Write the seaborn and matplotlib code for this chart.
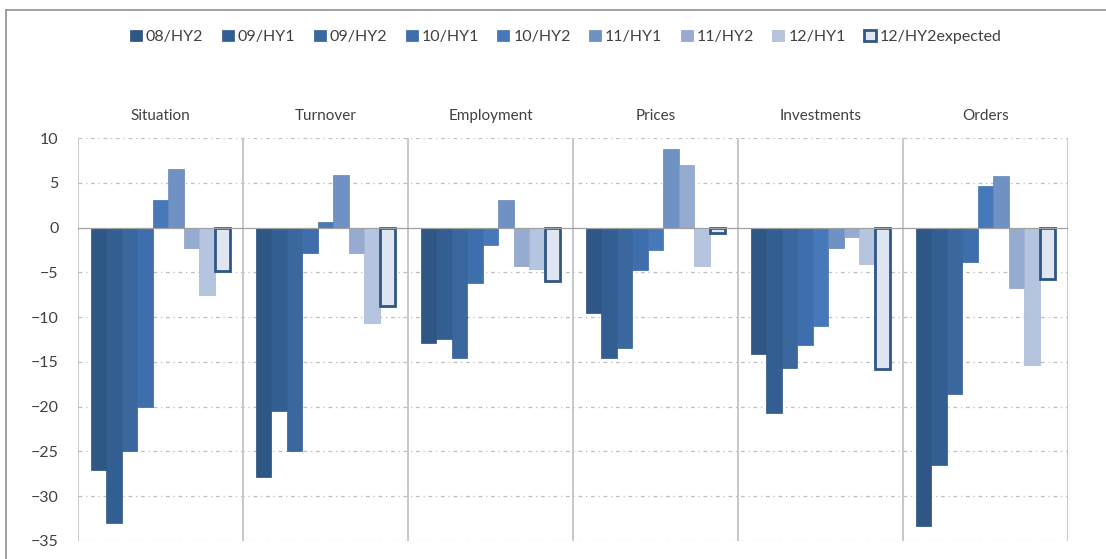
import matplotlib
matplotlib.use("Agg")
import matplotlib.pyplot as plt
import matplotlib.transforms as mtransforms
from matplotlib.lines import Line2D
from matplotlib.patches import Patch
import numpy as np
import pandas as pd
import seaborn as sns

categories = ["Situation", "Turnover", "Employment", "Prices", "Investments", "Orders"]
periods = ["08/HY2", "09/HY1", "09/HY2", "10/HY1", "10/HY2",
           "11/HY1", "11/HY2", "12/HY1", "12/HY2expected"]

# one list per period, values per category (same order as categories)
hy2_08 = [-27.1, -27.9, -12.9, -9.5, -14.1, -33.3]
hy1_09 = [-33.0, -20.5, -12.4, -14.6, -20.7, -26.5]
hy2_09 = [-25.0, -25.0, -14.6, -13.5, -15.7, -18.6]
hy1_10 = [-20.0, -2.8, -6.2, -4.7, -13.1, -3.8]
hy2_10 = [3.1, 0.6, -1.9, -2.5, -11.0, 4.6]
hy1_11 = [6.5, 5.9, 3.1, 8.8, -2.3, 5.8]
hy2_11 = [-2.3, -2.8, -4.3, 7.0, -1.0, -6.8]
hy1_12 = [-7.5, -10.7, -4.6, -4.3, -4.1, -15.3]
hy2_12_expected = [-4.9, -8.8, -6.0, -0.6, -15.8, -5.7]

series = [hy2_08, hy1_09, hy2_09, hy1_10, hy2_10, hy1_11, hy2_11, hy1_12, hy2_12_expected]

colors = ["#2f5785", "#335e91", "#39679e", "#3e6fac", "#4779ba",
          "#7091c3", "#96abd0", "#b5c4df", "#dfe6f1"]
edges = ["#2a4f7a", "#2f5685", "#345e93", "#3966a0", "#4170ad",
         "#6585b8", "#8a9fc5", "#a6b6d3", "#2f5785"]

rows = []
for period, vals in zip(periods, series):
    for cat, v in zip(categories, vals):
        rows.append({"category": cat, "period": period, "value": v})
df = pd.DataFrame(rows)

sns.set_style("white")
plt.rcParams["font.family"] = ["Lato", "DejaVu Sans"]
text_color = "#404040"

fig = plt.figure(figsize=(11.06, 5.59), dpi=100)
ax = fig.add_axes([78 / 1106, 1 - 541 / 559, (1068 - 78) / 1106, (541 - 138) / 559])

sns.barplot(data=df, x="category", y="value", hue="period", order=categories,
            hue_order=periods, palette=colors, width=0.845, saturation=1,
            legend=False, ax=ax, zorder=3)

for i, cont in enumerate(ax.containers):
    for bar in cont:
        bar.set_edgecolor(edges[i])
        bar.set_linewidth(2.0 if i == len(periods) - 1 else 0.5)

ax.set_ylim(-35, 10)
ax.set_xlim(-0.5, len(categories) - 0.5)
ax.set_yticks(np.arange(-35, 11, 5))
ax.set_xticks([])
ax.set_xlabel("")
ax.set_ylabel("")
ax.tick_params(axis="y", length=0, pad=14, labelsize=11.5, labelcolor=text_color)
for s in ax.spines.values():
    s.set_visible(False)

for yv in np.arange(-35, 11, 5):
    if yv == 0:
        ax.axhline(0, color="#a0a0a0", lw=0.9, zorder=4)
    else:
        ax.axhline(yv, color="#bdbdbd", lw=0.9, ls=(0, (3, 3, 1, 3)), zorder=1)
for xv in np.arange(-0.5, len(categories), 1.0):
    ax.axvline(xv, color="#c4c4c4", lw=1.3, zorder=2)

trans = mtransforms.blended_transform_factory(ax.transData, ax.transAxes)
for i, cat in enumerate(categories):
    ax.text(i, 1.055, cat, transform=trans, ha="center", va="center",
            fontsize=11, color=text_color)

handles = [Patch(facecolor=c, edgecolor=e, linewidth=2.0 if k == len(periods) - 1 else 0.5)
           for k, (c, e) in enumerate(zip(colors, edges))]
fig.legend(handles, periods, loc="center", bbox_to_anchor=(566 / 1106, 1 - 37 / 559),
           ncol=len(periods), frameon=False, fontsize=11.5, handlelength=0.75,
           handleheight=0.75, handletextpad=0.25, columnspacing=1.15,
           labelcolor=text_color)

# thin frame lines along the top and left of the figure
fig.add_artist(Line2D([6 / 1106, 1], [1 - 10 / 559, 1 - 10 / 559], color="#909090", lw=1.2))
fig.add_artist(Line2D([6 / 1106, 6 / 1106], [0, 1 - 10 / 559], color="#909090", lw=1.2))

fig.savefig("out.png", dpi=100)
